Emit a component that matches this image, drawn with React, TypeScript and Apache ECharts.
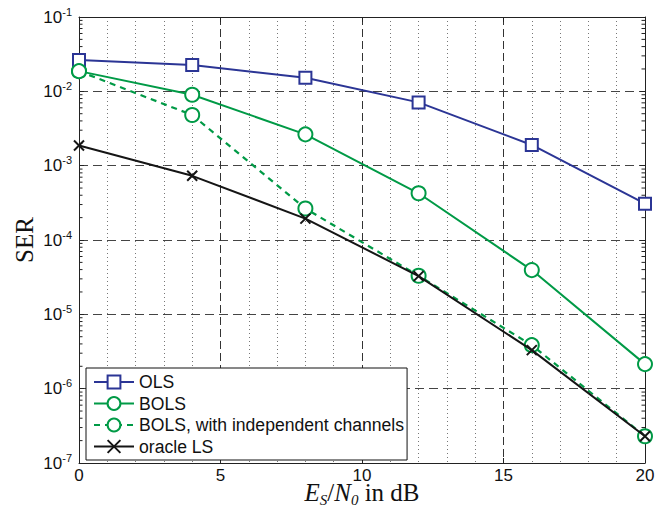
import React, { useEffect, useRef } from "react";
import * as echarts from "echarts";

const snr = [0, 4, 8, 12, 16, 20];
const ols = [2.64e-2, 2.26e-2, 1.52e-2, 7.1e-3, 1.9e-3, 3.08e-4];
const bols = [1.87e-2, 9.0e-3, 2.64e-3, 4.25e-4, 3.94e-5, 2.14e-6];
const bolsIndep = [1.87e-2, 4.8e-3, 2.65e-4, 3.3e-5, 3.85e-6, 2.29e-7];
const oracle = [1.87e-3, 7.3e-4, 1.94e-4, 3.27e-5, 3.3e-6, 2.29e-7];
const seriesNames = ["OLS", "BOLS", "BOLS, with independent channels", "oracle LS"];
const xTicks = [0, 5, 10, 15, 20];
const decades = [-7, -6, -5, -4, -3, -2];
const minorMultipliers = [2, 3, 4, 5, 6, 7, 8, 9];

const BLUE = "#2b3595";
const GREEN = "#009a46";
const BLACK = "#151515";

export default function App() {
  const ref = useRef<HTMLDivElement>(null);
  useEffect(() => {
    if (!ref.current) return;
    const chart = echarts.init(ref.current, null, { renderer: "svg" });
    const pairs = (ys: number[]) => snr.map((x, i) => [x, ys[i]]);
    const minorData: number[][] = [];
    decades.forEach((e) => minorMultipliers.forEach((m) => minorData.push([0, m * Math.pow(10, e)])));

    const sans = "Liberation Sans";
    const serif = "Liberation Serif";
    const majorDash = { type: [8, 4] as any, color: "#333", width: 1 };

    chart.setOption({
      animation: false,
      backgroundColor: "#fff",
      grid: { left: 79, top: 17, width: 566, height: 446, containLabel: false, outerBoundsMode: "none" },
      legend: {
        data: seriesNames,
        orient: "vertical",
        left: 86,
        top: 368,
        padding: [5, 3, 4.5, 7],
        itemWidth: 40,
        itemHeight: 16,
        itemGap: 3.5,
        backgroundColor: "#fff",
        borderColor: "#111",
        borderWidth: 1,
        borderRadius: 0,
        textStyle: { fontFamily: sans, fontSize: 17.6, color: "#111", lineHeight: 16 },
      },
      xAxis: [
        {
          type: "value",
          min: 0,
          max: 20,
          interval: 5,
          position: "bottom",
          name: "{i|E}{sub|S}{n|/}{i|N}{sub|0}{n| in dB}",
          nameLocation: "middle",
          nameGap: 19,
          nameMoveOverlap: false,
          nameTextStyle: {
            verticalAlign: "top",
            rich: {
              i: { fontFamily: serif, fontStyle: "italic", fontSize: 25, color: "#111", lineHeight: 20 },
              n: { fontFamily: serif, fontSize: 25, color: "#111", lineHeight: 20 },
              sub: {
                fontFamily: serif,
                fontStyle: "italic",
                fontSize: 15,
                color: "#111",
                verticalAlign: "top",
                lineHeight: 10,
                padding: [10, 0, 0, 0],
              },
            },
          },
          axisLine: { show: true, onZero: false, lineStyle: { color: "#222", width: 1 } },
          axisTick: { show: true, inside: true, length: 5, lineStyle: { color: "#222" } },
          axisLabel: {
            fontFamily: sans,
            fontSize: 17,
            lineHeight: 14,
            color: "#111",
            margin: 5,
            formatter: (v: number) => (xTicks.includes(v) ? String(v) : ""),
          },
          splitLine: { show: true, lineStyle: majorDash },
          minorTick: { show: false, splitNumber: 5 },
          minorSplitLine: { show: true, lineStyle: { type: [1, 3] as any, color: "#777", width: 1 } },
        },
        {
          type: "value",
          min: 0,
          max: 20,
          interval: 5,
          position: "top",
          axisLine: { show: true, onZero: false, lineStyle: { color: "#222", width: 1 } },
          axisTick: { show: true, inside: true, length: 5, lineStyle: { color: "#222" } },
          axisLabel: { show: false },
          splitLine: { show: false },
        },
      ],
      yAxis: [
        {
          type: "log",
          logBase: 10,
          min: 1e-7,
          max: 1e-1,
          splitNumber: 6,
          position: "left",
          name: "SER",
          nameLocation: "middle",
          nameGap: 42,
          nameRotate: 90,
          nameMoveOverlap: false,
          nameTextStyle: { fontFamily: serif, fontSize: 25, color: "#111" },
          axisLine: { show: true, onZero: false, lineStyle: { color: "#222", width: 1 } },
          axisTick: { show: true, inside: true, length: 5, lineStyle: { color: "#222" } },
          axisLabel: {
            margin: 7,
            formatter: (v: number) => `{b|10}{s|${Math.round(Math.log10(v))}}`,
            rich: {
              b: { fontFamily: sans, fontSize: 17, color: "#111", lineHeight: 22 },
              s: { fontFamily: sans, fontSize: 11, color: "#111", verticalAlign: "top", lineHeight: 11 },
            },
          },
          splitLine: { show: true, lineStyle: { type: [9, 5] as any, color: "#444", width: 1 } },
        },
        {
          type: "log",
          logBase: 10,
          min: 1e-7,
          max: 1e-1,
          splitNumber: 6,
          position: "right",
          axisLine: { show: true, onZero: false, lineStyle: { color: "#222", width: 1 } },
          axisTick: { show: true, inside: true, length: 5, lineStyle: { color: "#222" } },
          axisLabel: { show: false },
          splitLine: { show: false },
        },
      ],
      series: [
        {
          type: "custom",
          name: "minorTicks",
          xAxisIndex: 0,
          yAxisIndex: 0,
          silent: true,
          data: minorData,
          renderItem: (_p: any, api: any) => {
            const v = api.value(1);
            const a = api.coord([0, v]);
            const b = api.coord([20, v]);
            return {
              type: "group",
              children: [
                { type: "line", shape: { x1: a[0], y1: a[1], x2: a[0] + 3.5, y2: a[1] }, style: { stroke: "#222", lineWidth: 1 } },
                { type: "line", shape: { x1: b[0] - 3.5, y1: b[1], x2: b[0], y2: b[1] }, style: { stroke: "#222", lineWidth: 1 } },
              ],
            };
          },
        },
        {
          type: "line",
          name: seriesNames[0],
          data: pairs(ols),
          symbol: "rect",
          symbolSize: 12,
          clip: false,
          z: 5,
          lineStyle: { color: BLUE, width: 2 },
          itemStyle: { color: "#fff", borderColor: BLUE, borderWidth: 2 },
        },
        {
          type: "line",
          name: seriesNames[1],
          data: pairs(bols),
          symbol: "circle",
          symbolSize: 14,
          clip: false,
          z: 5,
          lineStyle: { color: GREEN, width: 2 },
          itemStyle: { color: "#fff", borderColor: GREEN, borderWidth: 2 },
        },
        {
          type: "line",
          name: seriesNames[2],
          data: pairs(bolsIndep),
          symbol: "circle",
          symbolSize: 14,
          clip: false,
          z: 4,
          lineStyle: { color: GREEN, width: 2.2, type: [6, 5] },
          itemStyle: { color: "#fff", borderColor: GREEN, borderWidth: 2 },
        },
        {
          type: "line",
          name: seriesNames[3],
          data: pairs(oracle),
          symbol: "path://M0,0L10,10M10,0L0,10",
          symbolSize: 10,
          clip: false,
          z: 6,
          lineStyle: { color: BLACK, width: 2 },
          itemStyle: { color: "none", borderColor: BLACK, borderWidth: 2 },
        },
      ],
    });
    return () => chart.dispose();
  }, []);
  return <div ref={ref} style={{ position: "fixed", left: 0, top: 0, width: 668, height: 508 }} />;
}
